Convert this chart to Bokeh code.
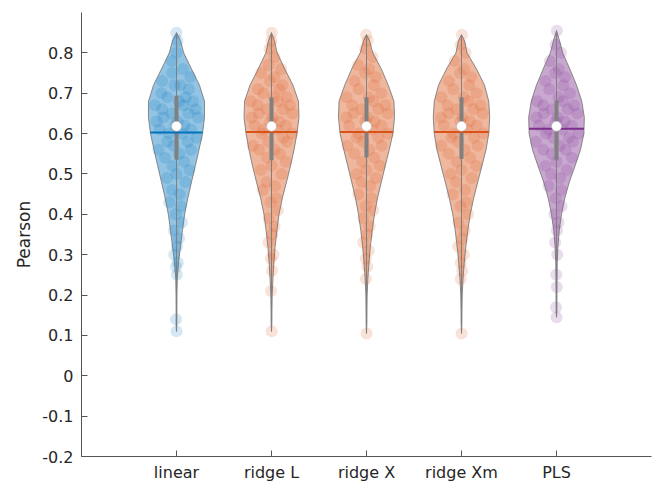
import numpy as np
from bokeh.plotting import figure
from bokeh.models import Range1d, FixedTicker
from bokeh.embed import file_html
from bokeh.resources import INLINE

# ---------------- data ----------------
categories = ["linear", "ridge L", "ridge X", "ridge Xm", "PLS"]
positions = [1, 2, 3, 4, 5]
colors = ["#0072BD", "#D95319", "#D95319", "#D95319", "#7E2F8E"]

y_ticks = [-0.2, -0.1, 0, 0.1, 0.2, 0.3, 0.4, 0.5, 0.6, 0.7, 0.8]
y_tick_labels = ["-0.2", "-0.1", "0", "0.1", "0.2", "0.3", "0.4", "0.5", "0.6", "0.7", "0.8"]

# violin outline: half-width (x units) at shared levels
grid_y = [0.83, 0.80, 0.76, 0.72, 0.68, 0.64, 0.60, 0.56, 0.52, 0.48,
          0.44, 0.40, 0.36, 0.32, 0.28, 0.24, 0.20, 0.16, 0.13]
hw_linear = [0.042, 0.076, 0.158, 0.242, 0.295, 0.295, 0.274, 0.237, 0.198, 0.158,
             0.119, 0.086, 0.063, 0.042, 0.021, 0.008, 0.005, 0.004, 0.004]
hw_ridgeL = [0.032, 0.059, 0.140, 0.226, 0.284, 0.289, 0.268, 0.237, 0.200, 0.158,
             0.114, 0.079, 0.057, 0.038, 0.025, 0.015, 0.007, 0.005, 0.004]
hw_ridgeX = [0.032, 0.066, 0.156, 0.229, 0.289, 0.295, 0.278, 0.239, 0.197, 0.156,
             0.116, 0.084, 0.060, 0.041, 0.026, 0.014, 0.007, 0.005, 0.004]
hw_ridgeXm = [0.032, 0.058, 0.158, 0.242, 0.287, 0.297, 0.287, 0.258, 0.215, 0.171,
              0.128, 0.092, 0.066, 0.046, 0.029, 0.016, 0.008, 0.005, 0.004]
hw_pls = [0.032, 0.065, 0.140, 0.211, 0.266, 0.293, 0.288, 0.253, 0.195, 0.135,
          0.087, 0.053, 0.029, 0.015, 0.008, 0.006, 0.005, 0.004, 0.004]
half_widths = [hw_linear, hw_ridgeL, hw_ridgeX, hw_ridgeXm, hw_pls]

v_max = [0.85, 0.85, 0.845, 0.845, 0.855]
v_min = [0.11, 0.11, 0.105, 0.105, 0.145]
v_median = [0.618, 0.618, 0.618, 0.618, 0.618]
v_mean = [0.603, 0.604, 0.604, 0.604, 0.612]
v_q1 = [0.535, 0.534, 0.541, 0.537, 0.534]
v_q3 = [0.694, 0.690, 0.690, 0.690, 0.682]

pts_linear = [0.11, 0.14, 0.25, 0.27, 0.28, 0.30, 0.32, 0.34, 0.36, 0.38, 0.40, 0.42, 0.43,
              0.45, 0.46, 0.48, 0.49, 0.50, 0.51, 0.52, 0.53, 0.54, 0.55, 0.56, 0.56, 0.57,
              0.58, 0.58, 0.59, 0.60, 0.60, 0.61, 0.61, 0.62, 0.62, 0.63, 0.63, 0.64, 0.64,
              0.65, 0.65, 0.66, 0.66, 0.67, 0.67, 0.68, 0.68, 0.69, 0.69, 0.70, 0.71, 0.72,
              0.72, 0.73, 0.74, 0.75, 0.76, 0.78, 0.80, 0.83, 0.85]
pts_ridgeL = [0.11, 0.21, 0.26, 0.29, 0.30, 0.33, 0.35, 0.37, 0.39, 0.41, 0.43, 0.44, 0.46,
              0.47, 0.48, 0.50, 0.51, 0.52, 0.53, 0.54, 0.55, 0.56, 0.56, 0.57, 0.58, 0.58,
              0.59, 0.60, 0.60, 0.61, 0.61, 0.62, 0.62, 0.63, 0.63, 0.64, 0.64, 0.65, 0.65,
              0.66, 0.66, 0.67, 0.67, 0.68, 0.68, 0.69, 0.69, 0.70, 0.71, 0.71, 0.72, 0.73,
              0.74, 0.75, 0.76, 0.77, 0.79, 0.81, 0.83, 0.85]
pts_ridgeX = [0.105, 0.24, 0.27, 0.29, 0.31, 0.33, 0.35, 0.37, 0.39, 0.41, 0.42, 0.44, 0.45,
              0.47, 0.48, 0.49, 0.50, 0.51, 0.52, 0.53, 0.54, 0.55, 0.56, 0.57, 0.57, 0.58,
              0.59, 0.59, 0.60, 0.60, 0.61, 0.62, 0.62, 0.63, 0.63, 0.64, 0.64, 0.65, 0.65,
              0.66, 0.66, 0.67, 0.67, 0.68, 0.69, 0.69, 0.70, 0.71, 0.72, 0.73, 0.74, 0.75,
              0.76, 0.77, 0.79, 0.81, 0.83, 0.845]
pts_ridgeXm = [0.105, 0.24, 0.26, 0.28, 0.30, 0.32, 0.34, 0.36, 0.38, 0.40, 0.42, 0.43, 0.45,
               0.46, 0.48, 0.49, 0.50, 0.51, 0.52, 0.53, 0.54, 0.55, 0.56, 0.57, 0.57, 0.58,
               0.59, 0.59, 0.60, 0.60, 0.61, 0.62, 0.62, 0.63, 0.63, 0.64, 0.64, 0.65, 0.65,
               0.66, 0.66, 0.67, 0.67, 0.68, 0.69, 0.69, 0.70, 0.71, 0.72, 0.73, 0.74, 0.75,
               0.76, 0.78, 0.80, 0.82, 0.845]
pts_pls = [0.145, 0.17, 0.22, 0.25, 0.30, 0.33, 0.36, 0.38, 0.40, 0.42, 0.44, 0.46, 0.47,
           0.49, 0.50, 0.51, 0.52, 0.53, 0.54, 0.55, 0.56, 0.56, 0.57, 0.58, 0.58, 0.59,
           0.59, 0.60, 0.60, 0.61, 0.61, 0.62, 0.62, 0.63, 0.63, 0.64, 0.64, 0.65, 0.65,
           0.66, 0.66, 0.67, 0.67, 0.68, 0.68, 0.69, 0.70, 0.71, 0.72, 0.73, 0.74, 0.75,
           0.76, 0.78, 0.80, 0.82, 0.855]
points = [pts_linear, pts_ridgeL, pts_ridgeX, pts_ridgeXm, pts_pls]

# horizontal jitter, as a fraction of the local half-width
jitter = [0.1, -0.6, 0.4, -0.3, 0.8, -0.9, 0.2, 0.6, -0.5, 0.9, -0.1, 0.5, -0.8, 0.3,
          -0.4, 0.7, -0.7, 0.0, 0.85, -0.25, 0.45, -0.65, 0.15, -0.95, 0.75, -0.15, 0.55,
          -0.45, 0.95, -0.35, 0.25, -0.75, 0.65, -0.05, 0.35, -0.85, 0.05, 0.9, -0.55, 0.5,
          -0.2, 0.8, -0.6, 0.3, -0.9, 0.1, 0.7, -0.4, 0.4, -0.7, 0.6, -0.1, 0.2, -0.8, 0.85,
          -0.3, 0.5, -0.5, 0.0, 0.3, -0.2]

# ---------------- figure ----------------
FONT = "DejaVu Sans"
TXT = "#262626"
GRAY = "#808080"

p = figure(width=654, height=484, output_backend="svg", toolbar_location=None,
           x_range=Range1d(0, 6), y_range=Range1d(-0.2, 0.9),
           min_border_left=81, min_border_right=3, min_border_top=12, min_border_bottom=26)
p.outline_line_color = None
p.xgrid.visible = False
p.ygrid.visible = False
p.background_fill_color = "white"
p.border_fill_color = "white"

for i in range(5):
    c = positions[i]
    top, bot = v_max[i], v_min[i]
    lv = [top] + [g for g, h in zip(grid_y, half_widths[i]) if bot < g < top] + [bot]
    lw = [0.0] + [h for g, h in zip(grid_y, half_widths[i]) if bot < g < top] + [0.0]
    xs = [c + w for w in lw] + [c - w for w in lw[::-1]]
    ys = lv + lv[::-1]
    p.patch(xs, ys, fill_color=colors[i], fill_alpha=0.42, line_color=None)

    gy_inc = list(reversed(lv))
    gw_inc = list(reversed(lw))
    py = np.array(points[i])
    hw_at = np.interp(py, gy_inc, gw_inc)
    jj = np.array([jitter[k % len(jitter)] for k in range(len(py))])
    px = c + 0.85 * jj * np.maximum(hw_at, 0.01)
    p.scatter(px, py, size=12, fill_color=colors[i], fill_alpha=0.17, line_color=None)

    p.line(xs + [xs[0]], ys + [ys[0]], line_color="#707070", line_width=0.8)

    # whisker + box
    p.segment(x0=[c], y0=[bot], x1=[c], y1=[top], line_color=GRAY, line_width=1)
    p.segment(x0=[c], y0=[v_q1[i]], x1=[c], y1=[v_q3[i]], line_color=GRAY, line_width=4)
    # mean line
    mw = float(np.interp(v_mean[i], gy_inc, gw_inc))
    p.segment(x0=[c - mw], y0=[v_mean[i]], x1=[c + mw], y1=[v_mean[i]],
              line_color=colors[i], line_width=2)
    # median
    p.scatter([c], [v_median[i]], size=10, fill_color="white", line_color="#b0b0b0",
              line_width=0.6)

# axes
p.xaxis.ticker = FixedTicker(ticks=positions)
p.xaxis.major_label_overrides = {pos: name for pos, name in zip(positions, categories)}
p.yaxis.ticker = FixedTicker(ticks=y_ticks)
p.yaxis.major_label_overrides = {t: s for t, s in zip(y_ticks, y_tick_labels)}
p.yaxis.axis_label = "Pearson"

for ax in (p.xaxis[0], p.yaxis[0]):
    ax.axis_line_color = "#555555"
    ax.major_tick_line_color = "#555555"
    ax.major_tick_in = 6
    ax.major_tick_out = 0
    ax.minor_tick_line_color = None
    ax.major_label_text_font = FONT
    ax.major_label_text_font_size = "16px"
    ax.major_label_text_color = TXT
    ax.axis_label_text_font = FONT
    ax.axis_label_text_font_size = "17px"
    ax.axis_label_text_font_style = "normal"
    ax.axis_label_text_color = TXT

p.yaxis.major_label_standoff = 8
p.yaxis.axis_label_standoff = 5
p.xaxis.major_label_standoff = 6

open("out.html", "w").write(file_html(p, INLINE))
